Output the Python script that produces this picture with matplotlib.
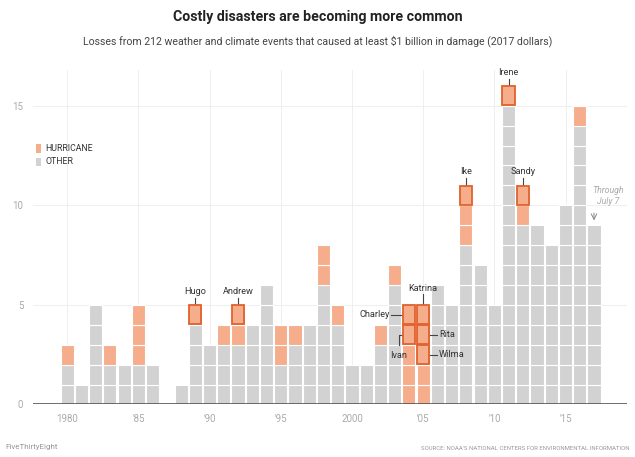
import matplotlib as mpl
mpl.use('agg')
import matplotlib.pyplot as plt
from matplotlib.patches import Rectangle

plt.rcParams['font.family'] = ['Liberation Sans Narrow', 'Roboto', 'DejaVu Sans']

# data: count of billion-dollar events per year
years = list(range(1980, 2018))
other = [2, 1, 5, 2, 2, 2, 2, 0, 1, 4,
         3, 3, 3, 4, 6, 2, 3, 4, 6, 4,
         2, 2, 3, 6, 0, 0, 6, 5, 8, 7,
         5, 15, 9, 9, 8, 10, 14, 9]
hurricane = [1, 0, 0, 1, 0, 3, 0, 0, 0, 1,
             0, 1, 2, 0, 0, 2, 1, 0, 2, 1,
             0, 0, 1, 1, 5, 5, 0, 0, 3, 0,
             0, 1, 2, 0, 0, 0, 1, 0]

# named storms: (name, year, cell index from bottom, starting at 1)
named = [('Hugo', 1989, 5), ('Andrew', 1992, 5),
         ('Charley', 2004, 5), ('Ivan', 2004, 4),
         ('Katrina', 2005, 5), ('Rita', 2005, 4), ('Wilma', 2005, 3),
         ('Ike', 2008, 11), ('Irene', 2011, 16), ('Sandy', 2012, 11)]

tick_years = [1980, 1985, 1990, 1995, 2000, 2005, 2010, 2015]
tick_labels = ['1980', "'85", "'90", "'95", '2000', "'05", "'10", "'15"]

GRAY = '#d2d2d2'
ORANGE = '#f6ad8c'
EDGE = '#e0622c'
W = 0.92

fig = plt.figure(figsize=(6.35, 4.57), dpi=100)
ax = fig.add_axes([0.052, 0.115, 0.935, 0.732])

for i, yr in enumerate(years):
    for r in range(other[i]):
        ax.add_patch(Rectangle((yr - W / 2, r), W, 1, facecolor=GRAY,
                               edgecolor='white', lw=0.8, zorder=2))
    for r in range(other[i], other[i] + hurricane[i]):
        ax.add_patch(Rectangle((yr - W / 2, r), W, 1, facecolor=ORANGE,
                               edgecolor='white', lw=0.8, zorder=2))

for name, yr, row in named:
    ax.add_patch(Rectangle((yr - W / 2 + 0.03, row - 1 + 0.03), W - 0.06, 0.94,
                           facecolor=ORANGE, edgecolor=EDGE, lw=1.3, zorder=4))

lab = dict(fontsize=6.6, color='#333333', zorder=5)
line = dict(color='#444444', lw=0.8, zorder=3)

# labels above the cell
for name, yr, row in named:
    if name in ('Hugo', 'Andrew', 'Ike', 'Irene', 'Sandy'):
        ax.plot([yr, yr], [row, row + 0.35], **line)
        ax.text(yr, row + 0.45, name, ha='center', va='bottom', **lab)

# Katrina
ax.plot([2005, 2005], [5, 5.55], **line)
ax.text(2005, 5.6, 'Katrina', ha='center', va='bottom', **lab)
# Charley
ax.plot([2002.75, 2004 - W / 2], [4.5, 4.5], **line)
ax.text(2002.65, 4.5, 'Charley', ha='right', va='center', **lab)
# Ivan
ax.plot([2003.3, 2003.3, 2004 - W / 2], [3.0, 3.5, 3.5], **line)
ax.text(2003.25, 2.45, 'Ivan', ha='center', va='center', **lab)
# Rita, Wilma
ax.plot([2005 + W / 2, 2006.0], [3.5, 3.5], **line)
ax.text(2006.1, 3.5, 'Rita', ha='left', va='center', **lab)
ax.plot([2005 + W / 2, 2006.0], [2.5, 2.5], **line)
ax.text(2006.1, 2.5, 'Wilma', ha='left', va='center', **lab)

# through July 7
ax.text(2018.0, 10.45, 'Through\nJuly 7', ha='center', va='center',
        fontsize=6.3, color='#aaaaaa', style='italic', linespacing=1.3)
ax.annotate('', xy=(2017, 9.1), xytext=(2017, 9.75),
            arrowprops=dict(arrowstyle='->', color='#888888', lw=0.7))

# legend
ax.add_patch(Rectangle((0.005, 0.753), 0.008, 0.026, transform=ax.transAxes,
                       facecolor=ORANGE, edgecolor='none', clip_on=False))
ax.add_patch(Rectangle((0.005, 0.712), 0.008, 0.026, transform=ax.transAxes,
                       facecolor=GRAY, edgecolor='none', clip_on=False))
ax.text(0.021, 0.766, 'HURRICANE', transform=ax.transAxes, va='center',
        fontsize=6.3, color='#333333')
ax.text(0.021, 0.725, 'OTHER', transform=ax.transAxes, va='center',
        fontsize=6.3, color='#333333')

ax.set_xlim(1977.6, 2019.3)
ax.set_ylim(0, 16.8)
ax.set_xticks(tick_years)
ax.set_xticklabels(tick_labels)
ax.set_yticks([0, 5, 10, 15])
ax.tick_params(length=0, labelsize=7, labelcolor='#aaaaaa', pad=7)
ax.grid(True, color='#efefef', lw=0.7, zorder=0)
ax.set_axisbelow(True)
for s in ax.spines.values():
    s.set_visible(False)
ax.axhline(0, color='#555555', lw=1.2, zorder=6)

fig.text(0.5, 0.962, 'Costly disasters are becoming more common', ha='center',
         va='center', fontsize=10.2, fontweight='bold', color='#222222')
fig.text(0.5, 0.91, 'Losses from 212 weather and climate events that caused at least '
         '$1 billion in damage (2017 dollars)', ha='center', va='center',
         fontsize=7.6, color='#444444')
fig.text(0.008, 0.022, 'FiveThirtyEight', ha='left', va='center',
         fontsize=5.8, color='#999999')
fig.text(0.992, 0.018, "SOURCE: NOAA'S NATIONAL CENTERS FOR ENVIRONMENTAL INFORMATION",
         ha='right', va='center', fontsize=4.3, color='#999999')

fig.savefig('out.png', dpi=100)
